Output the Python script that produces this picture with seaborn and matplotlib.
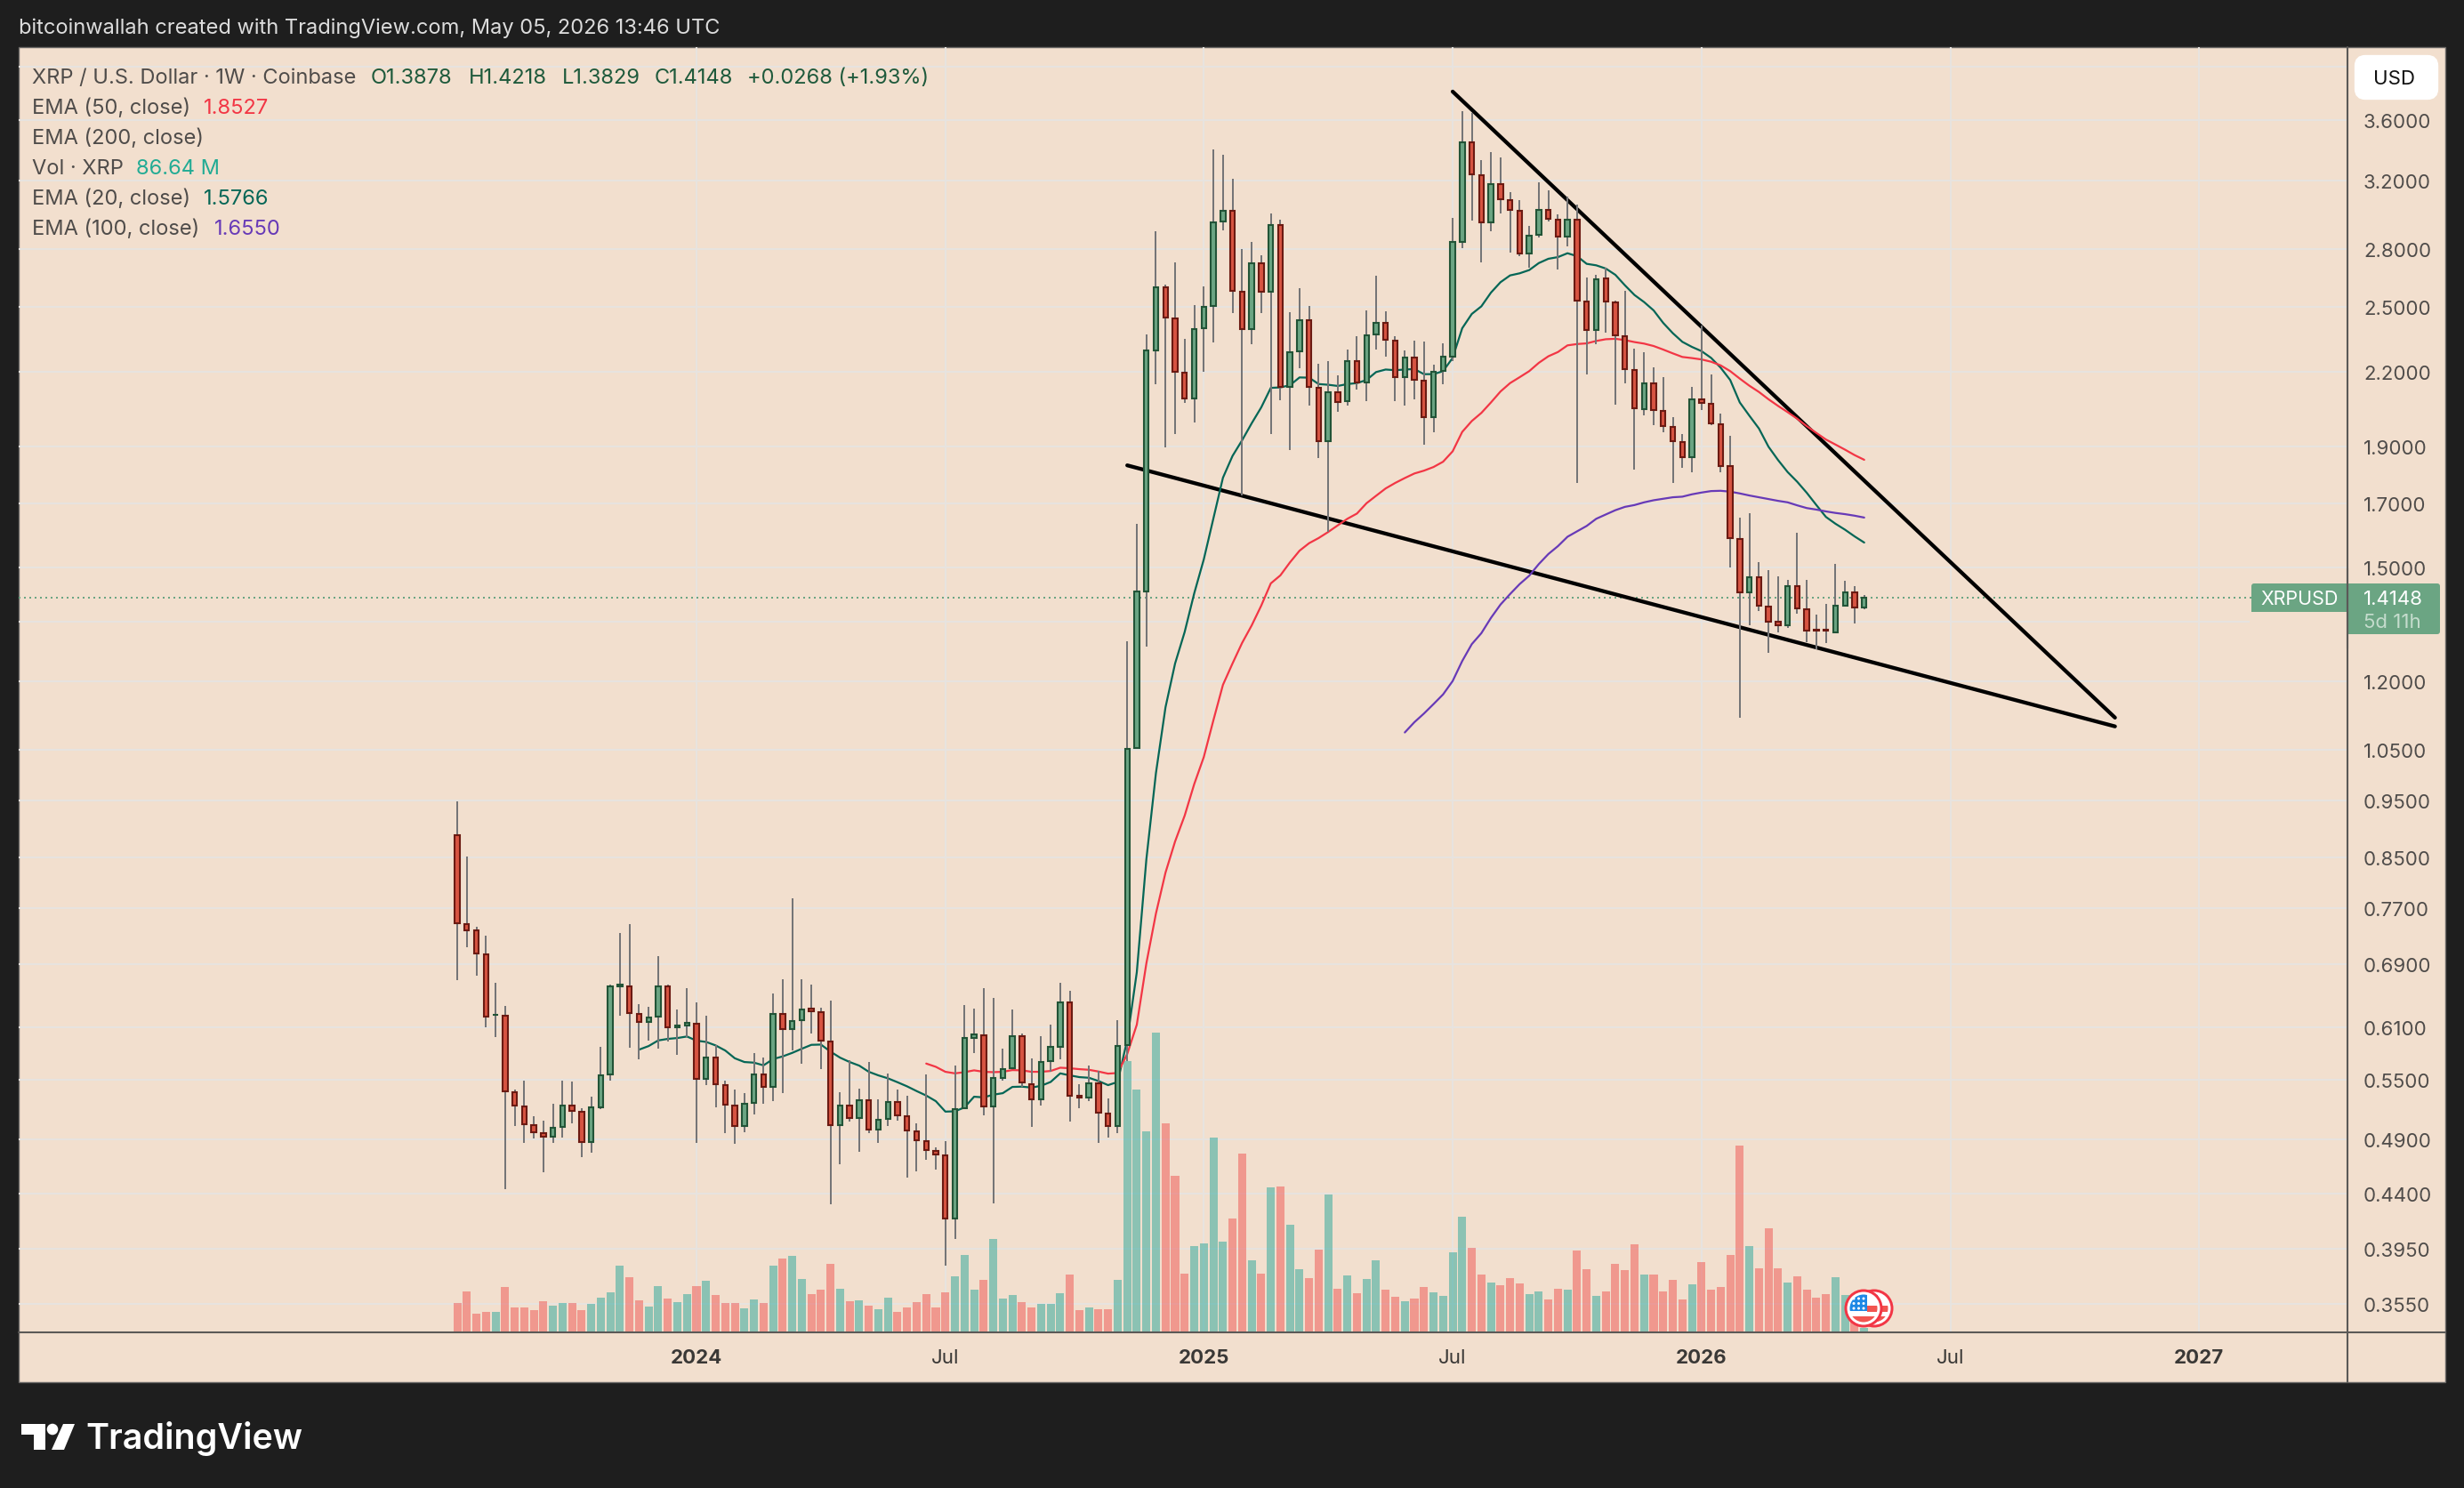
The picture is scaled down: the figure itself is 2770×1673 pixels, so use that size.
import numpy as np
import pandas as pd
import matplotlib
matplotlib.use('Agg')
import matplotlib.pyplot as plt
from matplotlib.patches import Rectangle, Circle, Polygon, FancyBboxPatch
import seaborn as sns

# weekly XRP/USD candles
opens = [0.8881,0.7462,0.7376,0.7037,0.6244,0.624,0.5372,0.5225,0.5037,0.4959,0.4919,0.5014,0.5234,0.517,0.4868,0.5216,0.5556,0.6609,0.6609,0.6258,0.6157,
0.6222,0.6609,0.6093,0.6115,0.614,0.5508,0.575,0.5448,0.5234,0.5023,0.5255,0.5563,0.5422,0.6262,0.6072,0.6179,0.632,0.6284,0.5933,0.5031,0.5234,0.5102,
0.5289,0.4988,0.5093,0.527,0.5126,0.4976,0.4882,0.4789,0.4748,0.4191,0.5201,0.5974,0.6006,0.5219,0.5518,0.5624,0.5995,0.5457,0.5292,0.5703,0.5864,
0.6405,0.5329,0.531,0.5467,0.5152,0.5023,0.5888,1.053,1.432,2.293,2.597,2.444,2.198,2.087,2.395,2.501,2.951,3.017,2.575,2.391,2.722,2.572,2.934,2.135,
2.289,2.435,2.133,1.92,2.115,2.076,2.248,2.153,2.366,2.423,2.34,2.176,2.264,2.163,2.015,2.203,2.268,2.835,3.45,3.235,2.946,3.179,3.081,3.017,2.772,
2.875,3.022,2.965,2.865,2.965,2.526,2.386,2.643,2.522,2.36,2.209,2.044,2.152,2.039,1.976,1.918,1.86,2.086,2.068,1.986,1.83,1.587,1.428,1.472,1.39,1.35,
1.339,1.447,1.383,1.327,1.327,1.322,1.393,1.429,1.3878]
highs = [0.9488,0.8517,0.7418,0.729,0.6652,0.6353,0.5397,0.5492,0.5123,0.5078,0.5249,0.5492,0.5483,0.5201,0.5323,0.5864,0.6625,0.7333,0.7462,0.6379,
0.6346,0.7008,0.6625,0.6313,0.6582,0.6402,0.6237,0.5888,0.5494,0.5397,0.536,0.5797,0.5746,0.6514,0.6698,0.7848,0.6694,0.6628,0.6331,0.642,0.5369,
0.5713,0.5407,0.5697,0.5295,0.5569,0.5397,0.5332,0.5052,0.5559,0.482,0.4879,0.5657,0.6368,0.6324,0.6582,0.6458,0.5847,0.6313,0.602,0.5736,0.5992,
0.6129,0.6652,0.6548,0.5454,0.5657,0.5598,0.5304,0.6182,1.299,1.634,2.367,2.897,2.608,2.726,2.347,2.507,2.6,3.4,3.365,3.21,2.798,2.837,2.764,3.0,2.963,
2.472,2.591,2.503,2.235,2.247,2.185,2.298,2.359,2.481,2.655,2.477,2.359,2.294,2.338,2.334,2.231,2.326,2.974,3.665,3.652,3.33,3.382,3.347,3.128,3.079,
2.927,3.188,3.138,2.994,3.1,3.052,2.646,2.66,2.697,2.529,2.578,2.302,2.286,2.219,2.177,2.013,1.948,2.136,2.41,2.189,2.027,1.941,1.654,1.668,1.516,
1.492,1.474,1.464,1.605,1.464,1.368,1.397,1.51,1.461,1.446,1.4218]
lows = [0.6683,0.7136,0.6749,0.6097,0.5985,0.4444,0.5028,0.4865,0.4907,0.4593,0.4865,0.4916,0.5055,0.4731,0.4772,0.5197,0.5495,0.624,0.5861,0.573,0.5943,
0.5851,0.5933,0.578,0.5985,0.4865,0.5448,0.5216,0.4959,0.4856,0.4967,0.5143,0.5252,0.528,0.5363,0.583,0.568,0.6027,0.5621,0.4314,0.4666,0.5072,0.4781,
0.4959,0.4865,0.5028,0.5081,0.4545,0.4601,0.4706,0.4617,0.3826,0.4031,0.5191,0.58,0.5132,0.4322,0.5492,0.5615,0.5429,0.502,0.5231,0.5592,0.5727,0.5072,
0.5204,0.5277,0.4865,0.4913,0.4956,0.5707,1.053,1.284,2.148,1.899,1.949,2.071,1.993,2.201,2.332,2.904,2.469,1.727,2.323,2.469,1.949,2.082,1.889,2.217,
2.06,1.859,1.609,2.035,2.06,2.126,2.078,2.299,2.268,2.078,2.06,2.086,1.908,1.956,2.148,2.248,2.803,2.958,2.727,2.897,3.001,2.78,2.761,2.697,2.863,
2.955,2.689,2.814,1.771,2.19,2.323,2.375,2.064,2.152,1.818,2.021,1.983,1.956,1.771,1.824,1.808,2.043,1.983,1.808,1.501,1.118,1.34,1.378,1.27,1.322,
1.333,1.371,1.295,1.279,1.294,1.32,1.391,1.345,1.3829]
closes = [0.747,0.7367,0.7041,0.6222,0.6251,0.5375,0.5228,0.504,0.4962,0.4919,0.5011,0.5234,0.5176,0.4868,0.5216,0.5553,0.6602,0.6625,0.6266,0.6157,0.6218,
0.6609,0.6093,0.6115,0.6147,0.5508,0.575,0.5451,0.5237,0.5023,0.5252,0.5563,0.5422,0.6262,0.6072,0.6175,0.6317,0.6287,0.5936,0.5031,0.5234,0.5102,
0.5289,0.4988,0.509,0.527,0.5129,0.4979,0.4885,0.4792,0.475,0.4191,0.5197,0.5974,0.6009,0.5219,0.5524,0.5621,0.5995,0.547,0.5292,0.57,0.5871,0.6405,
0.5329,0.531,0.5467,0.5155,0.5023,0.5881,1.052,1.431,2.293,2.597,2.445,2.199,2.087,2.393,2.5,2.949,3.017,2.576,2.391,2.722,2.572,2.934,2.135,2.287,
2.435,2.135,1.92,2.115,2.075,2.248,2.153,2.364,2.423,2.341,2.176,2.264,2.165,2.015,2.201,2.268,2.835,3.45,3.236,2.946,3.179,3.082,3.019,2.772,2.873,
3.022,2.967,2.865,2.965,2.527,2.386,2.638,2.523,2.362,2.21,2.047,2.152,2.04,1.977,1.92,1.86,2.086,2.069,1.988,1.831,1.588,1.428,1.472,1.391,1.35,1.339,
1.447,1.384,1.325,1.325,1.325,1.393,1.429,1.386,1.4148]
volume = [531,744,335,368,368,826,450,450,401,564,482,531,531,401,515,629,728,1218,1006,580,466,842,613,548,695,842,940,679,531,531,433,597,531,1218,1349,1398,973,695,777,1251,793,564,580,482,417,629,368,450,548,695,450,728,1022,1414,777,956,1709,613,679,548,450,515,515,711,1055,401,450,417,417,956,4979,4455,3687,5502,3834,2869,1071,1578,1627,3572,1660,2085,3278,1316,1071,2657,2673,1970,1153,989,1512,2526,793,1038,711,973,1316,777,646,564,613,826,728,662,1463,2117,1545,1055,907,858,989,891,695,744,597,793,777,1496,1153,662,744,1251,1136,1610,1055,1055,744,956,597,875,1283,777,826,1414,3425,1578,1169,1905,1169,907,1022,777,629,695,1006,679,232,87]

# moving averages, first values sit at candle 19, 49 and 99
ema20 = [0.5837,0.5878,0.5943,0.5961,0.5971,0.5989,0.594,0.5926,0.5885,0.5827,0.5739,0.5697,0.569,0.566,0.573,0.576,0.58,0.5847,0.5892,0.5895,0.5814,
0.5746,0.5697,0.5657,0.5589,0.555,0.5518,0.5476,0.5432,0.5382,0.5335,0.5277,0.517,0.5173,0.5213,0.5323,0.5316,0.5344,0.536,0.5426,0.5429,0.5419,0.5438,
0.5479,0.5572,0.555,0.5531,0.5524,0.5489,0.5445,0.5479,0.595,0.6792,0.8473,1.003,1.141,1.243,1.322,1.426,1.524,1.651,1.788,1.866,1.924,1.989,2.052,
2.132,2.134,2.143,2.176,2.175,2.148,2.145,2.14,2.148,2.152,2.165,2.199,2.21,2.207,2.21,2.212,2.19,2.19,2.203,2.261,2.396,2.464,2.501,2.569,2.622,2.657,
2.668,2.685,2.722,2.745,2.754,2.775,2.759,2.718,2.71,2.693,2.66,2.606,2.557,2.522,2.481,2.421,2.373,2.333,2.31,2.291,2.261,2.218,2.165,2.072,2.019,
1.969,1.9,1.851,1.808,1.774,1.736,1.695,1.656,1.634,1.615,1.594,1.575]
ema50 = [0.568,0.5644,0.5589,0.5572,0.5585,0.5605,0.5589,0.5585,0.5589,0.5608,0.5605,0.5589,0.5589,0.5598,0.5634,0.5628,0.5618,0.5611,0.5592,0.5569,
0.5576,0.5787,0.6129,0.6911,0.7619,0.8255,0.8773,0.9228,0.9816,1.035,1.112,1.192,1.243,1.294,1.339,1.392,1.454,1.477,1.515,1.55,1.573,1.589,1.608,
1.629,1.65,1.667,1.701,1.726,1.751,1.77,1.787,1.803,1.813,1.826,1.845,1.883,1.956,1.998,2.03,2.072,2.117,2.152,2.177,2.203,2.239,2.268,2.287,2.317,
2.323,2.326,2.337,2.345,2.347,2.341,2.332,2.325,2.314,2.298,2.281,2.265,2.26,2.254,2.244,2.228,2.203,2.171,2.141,2.115,2.085,2.058,2.033,2.007,1.978,
1.952,1.927,1.908,1.889,1.869,1.852]
ema100 = [1.086,1.108,1.127,1.148,1.17,1.201,1.249,1.291,1.319,1.359,1.395,1.424,1.452,1.476,1.51,1.54,1.564,1.593,1.61,1.627,1.65,1.664,1.678,1.689,1.695,1.704,1.711,1.716,1.721,1.723,1.731,1.737,1.742,1.743,1.74,1.734,1.727,1.721,1.715,1.709,1.704,1.694,1.685,1.68,1.674,1.669,1.665,1.66,1.654]

# hand drawn trend lines: candle position, price
upper_x = [104, 173.2]
upper_y = [3.808, 1.118]
lower_x = [70, 173.2]
lower_y = [1.832, 1.099]

price_ticks = [4.0,3.6,3.2,2.8,2.5,2.2,1.9,1.7,1.5,1.35,1.2,1.05,0.95,0.85,0.77,0.69,0.61,0.55,0.49,0.44,0.395,0.355]
hidden_ticks = [4.0, 1.35]
time_ticks = [25, 51, 78, 104, 130, 156, 182]
time_labels = ['2024', 'Jul', '2025', 'Jul', '2026', 'Jul', '2027']
last_price = 1.4148

BG = '#f2dfce'
DARK = '#1e1e1e'
GRID = '#e7e3df'
UP, UP_EDGE = '#6ba583', '#225437'
DOWN, DOWN_EDGE = '#d75442', '#6b1a12'
WICK = '#757577'
AXIS = '#5b5957'
TXT = '#4f4c4a'

sns.set_theme(style='white')
plt.rcParams['font.family'] = ['Inter', 'DejaVu Sans']

W, H = 2770, 1674
L_, R_, T_, B_ = 21, 2639, 54, 1499
pos = [L_/W, 1-B_/H, (R_-L_)/W, (B_-T_)/H]
xlim = (-45.82, 197.49)
ylim = (0.3356, 4.154)

fig = plt.figure(figsize=(W/100, H/100), dpi=100, facecolor=DARK)

# chart panel behind everything
fig.add_artist(Rectangle((L_/W, 1-1555/H), (2749-L_)/W, 1501/H, transform=fig.transFigure,
                         facecolor=BG, edgecolor='#6a6866', lw=1, zorder=0.5))

idx = np.arange(len(closes))
df = pd.DataFrame({'idx': idx, 'open': opens, 'high': highs, 'low': lows, 'close': closes, 'volume': volume})
df['dir'] = np.where(df['close'] >= df['open'], 'up', 'down')

# grid layer
ax_grid = fig.add_axes(pos, zorder=1)
ax_grid.patch.set_visible(False)
ax_grid.set_yscale('log')
ax_grid.set_xlim(xlim)
ax_grid.set_ylim(ylim)
ax_grid.set_xticks(time_ticks)
ax_grid.set_yticks(price_ticks)
ax_grid.set_yticks([], minor=True)
ax_grid.set_xticklabels([])
ax_grid.set_yticklabels([])
ax_grid.tick_params(length=0)
ax_grid.grid(True, color=GRID, lw=1.5)
sns.despine(ax=ax_grid, left=True, bottom=True)

# volume layer
ax_vol = fig.add_axes(pos, zorder=2)
ax_vol.patch.set_visible(False)
sns.barplot(data=df, x='idx', y='volume', hue='dir', palette={'up': '#26a69a', 'down': '#ef5350'},
            native_scale=True, dodge=False, width=0.84, saturation=1, alpha=0.5,
            errorbar=None, legend=False, linewidth=0, ax=ax_vol)
ax_vol.set_xlim(xlim)
ax_vol.set_ylim(0, 23600)
ax_vol.set_axis_off()

# price layer
ax = fig.add_axes(pos, zorder=3)
ax.patch.set_visible(False)
ax.set_yscale('log')
ax.set_xlim(xlim)
ax.set_ylim(ylim)

ax.axhline(last_price, color=UP, lw=1.44, ls=(0, (1, 2)), zorder=1)
ax.plot(upper_x, upper_y, color='black', lw=3.1, solid_capstyle='round', zorder=2)
ax.plot(lower_x, lower_y, color='black', lw=3.1, solid_capstyle='round', zorder=2)

sns.lineplot(x=idx[19:], y=ema20, color='#056656', lw=1.6, estimator=None, ax=ax, zorder=3)
sns.lineplot(x=idx[99:], y=ema100, color='#673ab7', lw=1.6, estimator=None, ax=ax, zorder=3)
sns.lineplot(x=idx[49:], y=ema50, color='#f23645', lw=1.6, estimator=None, ax=ax, zorder=3)

ax.vlines(df['idx'], df['low'], df['high'], color=WICK, lw=1.44, zorder=4)
for d, fc, ec in [('up', UP, UP_EDGE), ('down', DOWN, DOWN_EDGE)]:
    s = df[df['dir'] == d]
    ax.bar(s['idx'], (s['close']-s['open']).abs(), bottom=s[['open', 'close']].min(axis=1), width=0.5,
           facecolor=fc, edgecolor=ec, lw=1.5, zorder=5)

ax.set_xlim(xlim)
ax.set_ylim(ylim)
ax.set_xlabel('')
ax.set_ylabel('')
ax.yaxis.tick_right()
ax.set_yticks(price_ticks)
ax.set_yticks([], minor=True)
ax.set_yticklabels(['' if t in hidden_ticks else '%.4f' % t for t in price_ticks], fontsize=16, color=TXT)
ax.set_xticks(time_ticks)
ax.set_xticklabels(time_labels, fontsize=16, color='#3a3836')
for lab, t in zip(ax.get_xticklabels(), time_labels):
    if t != 'Jul':
        lab.set_fontweight('bold')
ax.tick_params(axis='y', length=0, pad=13)
ax.tick_params(axis='x', length=0, pad=13)
for sp in ax.spines.values():
    sp.set_visible(False)

# texts, price label, calendar flags and logo in pixel space
px = fig.add_axes([0, 0, 1, 1], zorder=6)
px.patch.set_visible(False)
px.set_xlim(0, W)
px.set_ylim(H, 0)
px.set_axis_off()

px.plot([R_, R_], [T_, 1555], color=AXIS, lw=1.5)
px.plot([L_, 2749], [B_, B_], color=AXIS, lw=1.5)

px.text(21, 32, 'bitcoinwallah created with TradingView.com, May 05, 2026 13:46 UTC', color='#dcdcdc', fontsize=17, va='center')

rows = [
    (88, [(36, 'XRP / U.S. Dollar · 1W · Coinbase', TXT), (417, 'O1.3878', '#1f5a3c'), (527, 'H1.4218', '#1f5a3c'),
          (632, 'L1.3829', '#1f5a3c'), (736, 'C1.4148', '#1f5a3c'), (840, '+0.0268 (+1.93%)', '#1f5a3c')]),
    (122, [(36, 'EMA (50, close)', TXT), (229, '1.8527', '#f23645')]),
    (156, [(36, 'EMA (200, close)', TXT)]),
    (190, [(36, 'Vol · XRP', TXT), (153, '86.64 M', '#22ab94')]),
    (224, [(36, 'EMA (20, close)', TXT), (229, '1.5766', '#056656')]),
    (258, [(36, 'EMA (100, close)', TXT), (241, '1.6550', '#673ab7')]),
]
for y, parts in rows:
    for x, s, c in parts:
        px.text(x, y, s, color=c, fontsize=17, va='center')

px.add_patch(FancyBboxPatch((2651, 67), 86, 42, boxstyle='round,pad=0,rounding_size=8',
                            facecolor='white', edgecolor='white', lw=6))
px.text(2692, 89, 'USD', color='#111111', fontsize=16, ha='center', va='center')

px.add_patch(FancyBboxPatch((2531, 657), 212, 57, boxstyle='round,pad=0,rounding_size=3', facecolor=UP, edgecolor='none'))
px.add_patch(Rectangle((2529, 689), 108.5, 30, facecolor=BG, edgecolor='none'))
px.plot([R_, R_], [640, 730], color=AXIS, lw=1.5)
px.text(2585, 674, 'XRPUSD', color='white', fontsize=15.5, ha='center', va='center')
px.text(2657, 674, '1.4148', color='white', fontsize=16, va='center')
px.text(2657, 700, '5d 11h', color='#c5dccd', fontsize=16, va='center')

def flag(cx, cy):
    px.add_patch(Circle((cx, cy), 21.5, facecolor='#f23645', edgecolor='none'))
    px.add_patch(Circle((cx, cy), 18.5, facecolor='white', edgecolor='none'))
    clip = Circle((cx, cy), 15.5, transform=px.transData)
    for x0, y0, w, h, c in [(cx-16, cy-16, 20, 19, '#1e88e5'), (cx+4, cy-3, 14, 7, '#f25550'),
                            (cx-16, cy+9, 32, 8, '#f25550')]:
        r = Rectangle((x0, y0), w, h, facecolor=c, edgecolor='none')
        px.add_patch(r)
        r.set_clip_path(clip)
    for i in range(3):
        for j in range(3):
            px.add_patch(Circle((cx-11+i*5.5, cy-11+j*5.5), 1.5, facecolor='white', edgecolor='none'))

flag(2107, 1472)
flag(2095, 1472)

px.add_patch(Polygon([(24, 1602), (51, 1602), (51, 1631), (38, 1631), (38, 1614), (24, 1614)], facecolor='white', edgecolor='none'))
px.add_patch(Circle((59, 1608), 6.3, facecolor='white', edgecolor='none'))
px.add_patch(Polygon([(71, 1602), (84, 1602), (72, 1631), (58, 1631)], facecolor='white', edgecolor='none'))
px.text(96, 1618, 'TradingView', color='white', fontsize=28.4, fontweight='semibold', va='center')

fig.savefig('out.png', dpi=100, facecolor=DARK)
